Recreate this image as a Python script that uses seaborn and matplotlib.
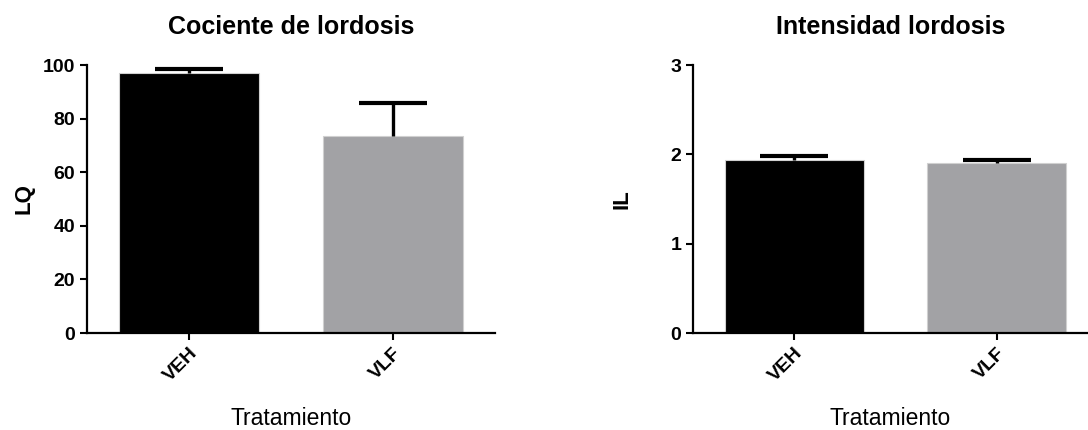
import pandas as pd
import matplotlib
matplotlib.use('Agg')
import matplotlib.pyplot as plt
import seaborn as sns

# Datos (media y error estandar)
tratamientos = ['VEH', 'VLF']
lq_media = [96.9, 73.6]
lq_error = [1.7, 12.3]
il_media = [1.94, 1.90]
il_error = [0.04, 0.04]
colores = ['#000000', '#a2a1a6']

sns.set_style('white')
plt.rcParams['font.family'] = ['Liberation Sans', 'DejaVu Sans']
plt.rcParams['text.color'] = 'black'
plt.rcParams['axes.labelcolor'] = 'black'
plt.rcParams['xtick.color'] = 'black'
plt.rcParams['ytick.color'] = 'black'

fig = plt.figure(figsize=(10.88, 4.30), dpi=100)
ax1 = fig.add_axes([87 / 1088, 1 - 333 / 430, 408 / 1088, 268 / 430])
ax2 = fig.add_axes([693 / 1088, 1 - 333 / 430, 395 / 1088, 268 / 430])

paneles = [
    {'ax': ax1, 'media': lq_media, 'error': lq_error, 'titulo': 'Cociente de lordosis',
     'ylabel': 'LQ', 'ylim': (0, 100), 'yticks': [0, 20, 40, 60, 80, 100], 'xlim': (-0.5, 1.5), 'pad': 6},
    {'ax': ax2, 'media': il_media, 'error': il_error, 'titulo': 'Intensidad lordosis',
     'ylabel': 'IL', 'ylim': (0, 3), 'yticks': [0, 1, 2, 3], 'xlim': (-0.5, 1.45), 'pad': 27},
]

for p in paneles:
    ax = p['ax']
    df = pd.DataFrame({'Tratamiento': tratamientos, 'valor': p['media']})
    sns.barplot(data=df, x='Tratamiento', y='valor', hue='Tratamiento', palette=colores,
                width=0.686, edgecolor='#d0d0d0', linewidth=0.8, legend=False, ax=ax)
    # solo la barra de error superior, como en GraphPad
    eb = ax.errorbar(range(len(tratamientos)), p['media'], yerr=[[0] * len(p['error']), p['error']],
                     fmt='none', ecolor='black', elinewidth=2.4, capsize=24.5, capthick=3, zorder=3)
    eb[1][0].set_visible(False)
    ax.set_xlim(*p['xlim'])
    ax.set_ylim(*p['ylim'])
    ax.set_yticks(p['yticks'])
    ax.set_title(p['titulo'], fontsize=18, fontweight='bold', pad=22)
    ax.set_ylabel(p['ylabel'], fontsize=16, fontweight='bold', labelpad=p['pad'])
    ax.set_xlabel('Tratamiento', fontsize=16.5, labelpad=16)
    for s in ['top', 'right']:
        ax.spines[s].set_visible(False)
    for s in ['left', 'bottom']:
        ax.spines[s].set_linewidth(1.6)
        ax.spines[s].set_color('black')
    ax.tick_params(axis='both', direction='out', length=5, width=1.5, color='black',
                   labelsize=14, left=True, bottom=True)
    for lab in ax.get_yticklabels():
        lab.set_fontweight('bold')
    for lab in ax.get_xticklabels():
        lab.set_fontweight('bold')
        lab.set_rotation(45)
        lab.set_ha('right')
        lab.set_rotation_mode('anchor')

fig.savefig('out.png', dpi=100)
